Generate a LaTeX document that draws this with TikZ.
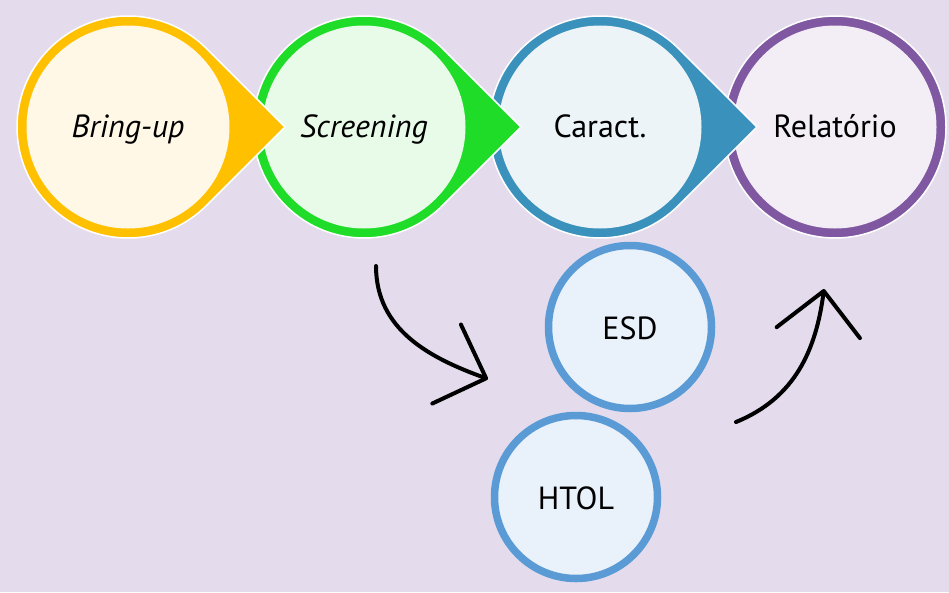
\documentclass[tikz,border=0pt]{standalone}
\usepackage{fontspec}
\setmainfont{PT Sans}
\usepackage{tikz}
\usetikzlibrary{positioning}
\usetikzlibrary{arrows.meta}
\usetikzlibrary{calc}

\definecolor{bgcol}{HTML}{E4DCEC}
\definecolor{brgRing}{HTML}{FFC000}
\definecolor{brgFill}{HTML}{FFF8E7}
\definecolor{scrRing}{HTML}{1EDC28}
\definecolor{scrFill}{HTML}{E8FAE8}
\definecolor{carRing}{HTML}{3A92BC}
\definecolor{carFill}{HTML}{ECF4F8}
\definecolor{relRing}{HTML}{8057A1}
\definecolor{relFill}{HTML}{F3EDF5}
\definecolor{testRing}{HTML}{5B9BD5}
\definecolor{testFill}{HTML}{E9F1FA}

\begin{document}
\begin{tikzpicture}[
            x = 1pt, y = -1pt, % pixel grid, y pointing down
            > = {Straight Barb[length=42pt, width=84pt, round]}, % open arrow head
            line join = round,
            semithick % line style
        ]

        \tikzstyle{stage}=[
            circle,
            draw = none,
            inner sep = 0pt,
            minimum size = 203pt,
            text height = 24pt,
            text depth = 4pt,
            font = \fontsize{32}{38}\selectfont
        ]
        \tikzstyle{testcirc}=[
            circle,
            draw = testRing,
            line width = 7.5pt,
            fill = testFill,
            inner sep = 0pt,
            minimum size = 163pt,
            text height = 24pt,
            text depth = 0pt,
            font = \fontsize{32}{38}\selectfont
        ]
        \tikzstyle{drop}=[draw = white, line width = 1.5pt]
        \tikzstyle{flow}=[->, line width = 4pt, line cap = round]

        % BACKGROUND
        \fill[bgcol] (0,0) rectangle (949,592);

        % STAGE CENTRES
        \coordinate (C1) at (128,127);
        \coordinate[right=236pt of C1] (C2);
        \coordinate[right=236pt of C2] (C3);
        \coordinate[right=235pt of C3] (C4);

        % RELATORIO (lies underneath the others)
        \filldraw[drop, fill = relRing] (C4) circle[radius=111];
        \node[stage, fill = relFill] (REL) at (C4) {Relatório};

        % CARACTERIZACAO
        \filldraw[drop, fill = carRing] ($(C3)+(157,0)$) -- ($(C3)+(44.5:111)$)
            arc[start angle=44.5, end angle=315.5, radius=111] -- cycle;
        \node[stage, fill = carFill] (CAR) at (C3) {Caract.};

        % SCREENING
        \filldraw[drop, fill = scrRing] ($(C2)+(157,0)$) -- ($(C2)+(44.5:111)$)
            arc[start angle=44.5, end angle=315.5, radius=111] -- cycle;
        \node[stage, fill = scrFill] (SCR) at (C2) {\itshape Screening};

        % BRING-UP
        \filldraw[drop, fill = brgRing] ($(C1)+(157,0)$) -- ($(C1)+(44.5:111)$)
            arc[start angle=44.5, end angle=315.5, radius=111] -- cycle;
        \node[stage, fill = brgFill] (BRG) at (C1) {\itshape Bring-up};

        % QUALIFICATION TESTS
        \node[testcirc] (ESD) at (630,327) {ESD};
        \node[testcirc] (HTOL) at (576,497) {HTOL};

        % FLOW INTO AND OUT OF THE TESTS
        \coordinate (inS) at (376,266);
        \coordinate (inE) at (488,379);
        \coordinate (outS) at (736,422);
        \coordinate (outE) at (824,289);

        \draw[flow] (inS) .. controls (376,330) and (430,358) .. (inE);
        \draw[flow] (outS) .. controls (795,398) and (816,350) .. (outE);

  \end{tikzpicture}
\end{document}
